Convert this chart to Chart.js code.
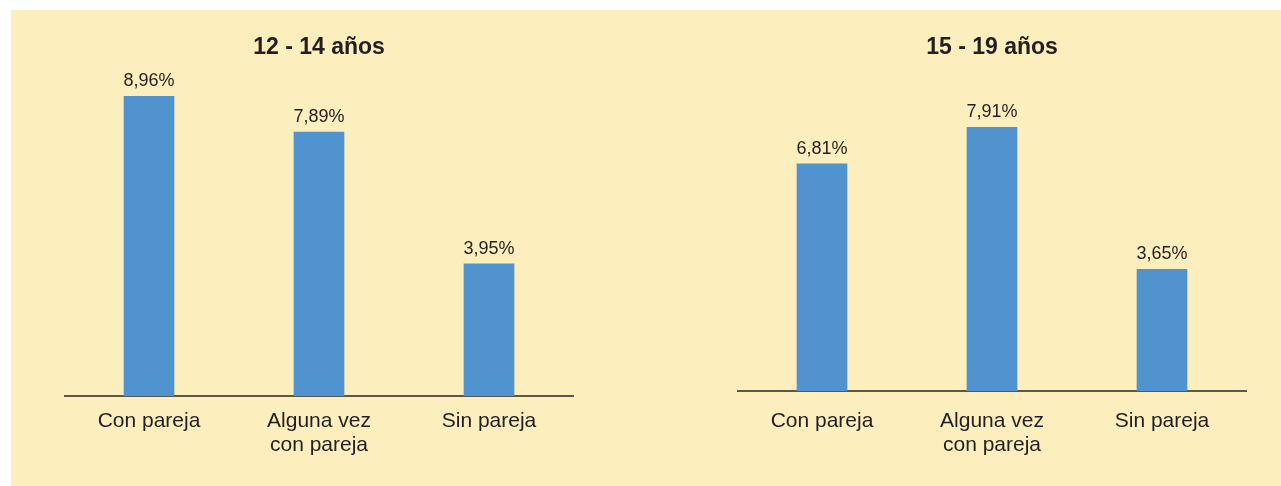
<!DOCTYPE html>
<html>
<head>
<meta charset="utf-8">
<script src="https://cdn.jsdelivr.net/npm/chart.js@4/dist/chart.umd.min.js"></script>
<style>
  html, body { margin: 0; padding: 0; background: #ffffff; }
  body { width: 1281px; height: 486px; position: relative; overflow: hidden; font-family: "Liberation Sans", Arial, sans-serif; }
  #panel { position: absolute; left: 11px; top: 10px; width: 1270px; height: 476px; background: #FCEEBD; }
  .box { position: absolute; top: 10px; width: 510px; height: 476px; }
  #box1 { left: 64px; }
  #box2 { left: 737px; }
</style>
</head>
<body>
<div id="panel"></div>
<div class="box" id="box1"><canvas id="c1" width="510" height="476"></canvas></div>
<div class="box" id="box2"><canvas id="c2" width="510" height="476"></canvas></div>
<script>
// ---- data ----
const categories = [["Con pareja"], ["Alguna vez", "con pareja"], ["Sin pareja"]];
const titleLeft = "12 - 14 años";
const titleRight = "15 - 19 años";
const valuesLeft = [8.96, 7.89, 3.95];
const valuesRight = [6.81, 7.91, 3.65];

const BAR_COLOR = "#5093CF";
const TEXT_COLOR = "#231F20";
const AXIS_COLOR = "#5E574C";

const valueLabels = {
  id: "valueLabels",
  afterDatasetsDraw(chart) {
    const ctx = chart.ctx;
    const meta = chart.getDatasetMeta(0);
    const vals = chart.data.datasets[0].data;
    ctx.save();
    ctx.font = "18px 'Liberation Sans', Arial, sans-serif";
    ctx.fillStyle = TEXT_COLOR;
    ctx.textAlign = "center";
    ctx.textBaseline = "alphabetic";
    meta.data.forEach((bar, i) => {
      const txt = vals[i].toFixed(2).replace(".", ",") + "%";
      ctx.fillText(txt, bar.x, bar.y - 10);
    });
    ctx.restore();
  }
};

function makeChart(id, title, values, yMax, xAxisHeight, tickPad) {
  return new Chart(document.getElementById(id), {
    type: "bar",
    data: {
      labels: categories,
      datasets: [{
        data: values,
        backgroundColor: BAR_COLOR,
        borderWidth: 0,
        barThickness: 50
      }]
    },
    options: {
      responsive: false,
      animation: false,
      devicePixelRatio: 1,
      layout: { padding: 0 },
      plugins: {
        legend: { display: false },
        tooltip: { enabled: false },
        title: {
          display: true,
          text: title,
          color: TEXT_COLOR,
          font: { family: "'Liberation Sans', Arial, sans-serif", size: 23, weight: "bold", lineHeight: 1.2 },
          padding: { top: 24, bottom: 8 }
        }
      },
      scales: {
        x: {
          grid: { display: false, drawTicks: false },
          border: { display: true, color: AXIS_COLOR, width: 2 },
          ticks: {
            color: TEXT_COLOR,
            padding: tickPad,
            font: { family: "'Liberation Sans', Arial, sans-serif", size: 21, lineHeight: 1.15 },
            maxRotation: 0,
            autoSkip: false
          },
          afterFit(scale) { scale.height = xAxisHeight; }
        },
        y: {
          display: false,
          min: 0,
          max: yMax
        }
      }
    },
    plugins: [valueLabels]
  });
}

makeChart("c1", titleLeft, valuesLeft, 9.76, 90, 13);
makeChart("c2", titleRight, valuesRight, 9.64, 95, 18);
</script>
</body>
</html>
